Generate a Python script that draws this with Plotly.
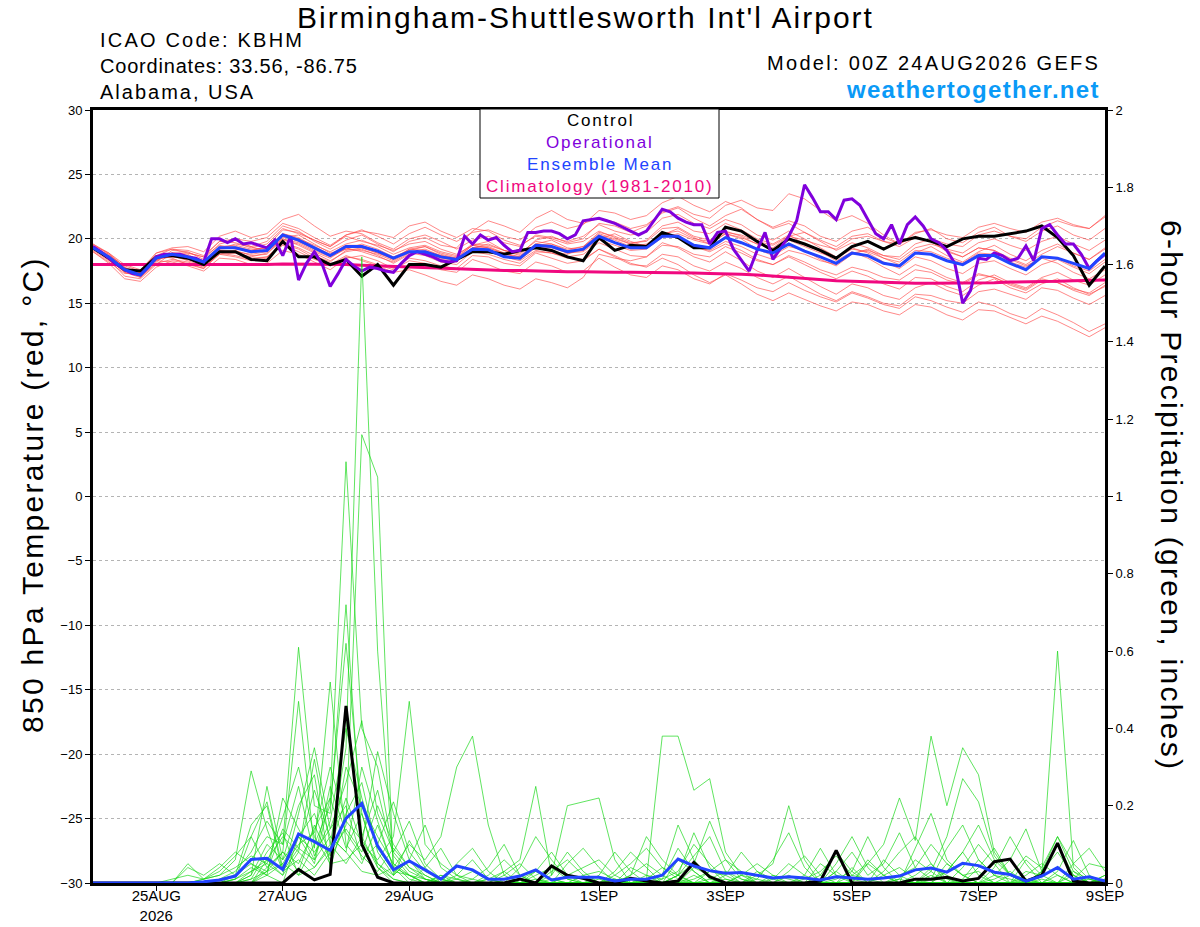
import plotly.graph_objects as go
import pandas as pd

# GEFS run 00Z 24AUG2026, 6-hourly out to 00Z 9SEP2026
times = pd.date_range("2026-08-24 00:00", periods=65, freq="6h")
# operational run is plotted at 3-hourly resolution
times_op = pd.date_range("2026-08-24 00:00", periods=129, freq="3h")

tick_vals = ["2026-08-25", "2026-08-27", "2026-08-29", "2026-09-01",
             "2026-09-03", "2026-09-05", "2026-09-07", "2026-09-09"]
tick_text = ["25AUG<br>2026", "27AUG", "29AUG", "1SEP",
             "3SEP", "5SEP", "7SEP", "9SEP"]

# 850 hPa temperature (C)
control_t = [19.3, 18.5, 17.6, 17.5, 18.6, 18.7, 18.5, 18.0, 19.0, 19.0,
             18.4, 18.3, 19.8, 18.6, 18.6, 18.0, 18.4, 17.1, 18.0, 16.4,
             18.0, 18.0, 17.8, 18.4, 19.0, 19.0, 18.8, 19.1, 19.3, 19.1,
             18.6, 18.3, 20.1, 19.1, 19.5, 19.4, 20.5, 20.1, 19.3, 19.3,
             20.9, 20.6, 19.8, 19.1, 20.0, 19.6, 19.1, 18.5, 19.4, 19.8,
             19.2, 19.8, 20.1, 19.8, 19.4, 20.0, 20.2, 20.2, 20.4, 20.6,
             21.0, 20.1, 18.7, 16.4, 17.9]

operational_t = [19.4, 19.0, 18.5, 18.0, 17.6, 17.3, 17.2, 17.8, 18.6, 18.8,
                 18.8, 18.8, 18.6, 18.5, 18.2, 20.0, 20.0, 19.7, 20.0, 19.6,
                 19.7, 19.5, 19.3, 19.9, 18.7, 20.2, 16.8, 18.1, 19.0, 18.0,
                 16.3, 17.3, 18.4, 17.9, 17.5, 17.8, 17.7, 17.5, 17.4, 18.1,
                 18.7, 19.0, 18.8, 18.6, 18.3, 18.2, 18.3, 20.2, 19.6, 20.3,
                 19.9, 20.1, 19.5, 19.0, 19.1, 20.5, 20.5, 20.6, 20.6, 20.4,
                 20.0, 20.3, 21.4, 21.5, 21.6, 21.4, 21.2, 20.9, 20.6, 20.3,
                 20.6, 21.5, 22.3, 22.1, 21.6, 21.3, 21.1, 21.1, 19.6, 20.5,
                 20.6, 19.2, 18.3, 17.5, 19.1, 20.5, 18.4, 19.3, 20.2, 21.4,
                 24.2, 23.2, 22.1, 22.1, 21.5, 23.0, 23.1, 22.6, 21.5, 20.4,
                 20.0, 21.1, 19.6, 21.1, 21.7, 21.0, 20.0, 19.7, 19.1, 18.1,
                 15.0, 16.0, 18.5, 18.4, 18.9, 18.7, 18.3, 18.5, 19.45, 18.3,
                 20.8, 21.1, 20.3, 19.6, 19.6, 18.8, 17.7, 18.3, 18.8]

mean_t = [19.3, 18.6, 17.6, 17.2, 18.5, 18.8, 18.6, 18.2, 19.3, 19.3,
          19.0, 19.1, 20.3, 19.9, 19.3, 18.7, 19.4, 19.4, 19.05, 18.5,
          19.0, 19.0, 18.6, 18.4, 19.2, 19.15, 18.6, 18.5, 19.5, 19.4,
          19.0, 19.2, 20.2, 19.7, 19.3, 19.3, 20.2, 20.2, 19.5, 19.3,
          20.1, 19.7, 19.2, 18.9, 19.6, 19.05, 18.6, 18.1, 18.9, 18.7,
          18.1, 17.9, 18.9, 18.8, 18.3, 18.0, 18.7, 18.7, 18.1, 17.6,
          18.6, 18.5, 18.1, 17.7, 18.9]

clim_t = [18.0, 18.0, 18.0, 17.95, 17.95, 17.95, 17.95, 17.95, 18.0, 18.0,
          18.0, 18.0, 18.05, 18.05, 18.05, 18.0, 18.0, 17.95, 17.9, 17.9,
          17.85, 17.8, 17.75, 17.7, 17.65, 17.6, 17.55, 17.55, 17.5, 17.5,
          17.45, 17.45, 17.4, 17.4, 17.4, 17.4, 17.4, 17.35, 17.35, 17.3,
          17.3, 17.25, 17.2, 17.1, 17.0, 16.9, 16.8, 16.75, 16.7, 16.65,
          16.6, 16.6, 16.55, 16.55, 16.55, 16.55, 16.6, 16.6, 16.65, 16.65,
          16.7, 16.7, 16.75, 16.75, 16.8]

members_t = [
    [19.6, 18.9, 17.8, 17.0, 18.2, 19.1, 19.0, 18.4, 19.6, 19.9, 19.4, 19.8, 21.0,
     20.6, 19.8, 19.2, 19.9, 20.3, 19.6, 19.0, 19.8, 20.1, 19.5, 19.3, 20.6, 21.4,
     21.0, 20.5, 21.6, 22.2, 21.5, 21.2, 21.6, 21.3, 20.8, 21.1, 22.0, 22.4, 21.6,
     21.0, 21.8, 22.3, 21.5, 20.9, 21.4, 21.0, 20.2, 19.8, 20.6, 20.9, 20.1, 19.6,
     20.4, 20.8, 20.0, 19.7, 20.5, 20.9, 20.2, 19.8, 20.6, 21.0, 20.3, 19.9, 20.8],
    [19.0, 18.2, 17.3, 17.4, 18.7, 18.5, 18.0, 17.7, 18.9, 18.7, 18.4, 18.6, 19.6,
     19.2, 18.5, 17.9, 18.6, 18.4, 18.0, 17.6, 18.3, 18.1, 17.6, 17.4, 18.4, 18.0,
     17.5, 17.3, 18.2, 17.9, 17.4, 17.5, 18.5, 17.8, 17.2, 17.0, 17.9, 17.6, 16.9,
     16.5, 17.3, 16.8, 16.2, 15.9, 16.6, 16.0, 15.5, 15.1, 15.8, 15.4, 14.9, 14.6,
     15.5, 15.2, 14.7, 14.3, 15.1, 14.8, 14.2, 13.8, 14.6, 14.1, 13.5, 12.8, 13.4],
    [19.4, 18.4, 17.1, 16.9, 18.0, 18.9, 18.9, 18.6, 19.5, 19.2, 19.1, 19.4, 20.7,
     20.5, 19.9, 19.4, 20.2, 19.8, 19.5, 19.1, 19.6, 19.8, 19.2, 18.8, 19.5, 19.3,
     18.9, 18.4, 19.3, 19.0, 18.8, 19.3, 20.4, 20.0, 19.6, 19.9, 21.0, 21.3, 20.6,
     20.4, 21.2, 20.7, 20.0, 19.6, 20.3, 19.6, 19.0, 18.3, 19.0, 18.5, 17.8, 17.2,
     18.0, 17.6, 17.0, 16.6, 17.3, 17.0, 16.5, 16.1, 16.9, 16.6, 16.0, 15.6, 16.4],
    [19.2, 18.7, 17.9, 17.5, 18.9, 19.3, 19.4, 19.0, 20.2, 20.6, 20.1, 20.4, 21.5,
     21.9, 21.0, 20.2, 20.6, 20.4, 19.7, 19.2, 20.0, 20.3, 19.8, 19.2, 19.9, 20.2,
     19.7, 19.4, 20.3, 20.1, 19.8, 20.2, 21.1, 20.6, 20.3, 20.5, 21.6, 21.9, 21.2,
     20.8, 21.5, 21.1, 20.3, 19.9, 20.6, 20.0, 19.3, 18.6, 19.3, 18.9, 18.2, 17.7,
     18.6, 18.3, 17.7, 17.3, 18.1, 18.3, 17.7, 17.2, 18.0, 18.4, 17.8, 17.3, 18.2],
    [19.5, 18.5, 17.4, 17.1, 18.4, 18.7, 18.3, 17.9, 19.0, 19.1, 18.7, 18.8, 20.0,
     19.5, 18.9, 18.3, 19.0, 19.2, 18.7, 18.1, 18.8, 19.0, 18.4, 18.2, 19.3, 19.6,
     19.1, 18.8, 19.9, 20.2, 19.7, 20.0, 21.2, 21.0, 20.5, 21.0, 22.1, 22.5, 21.9,
     21.6, 22.6, 23.0, 22.4, 22.2, 23.5, 23.1, 22.2, 21.4, 21.8, 21.2, 20.3, 19.6,
     20.2, 19.8, 19.0, 18.6, 19.3, 19.1, 18.5, 18.0, 18.8, 19.4, 18.9, 18.4, 19.3],
    [19.1, 18.3, 17.5, 17.6, 18.3, 18.2, 17.9, 17.5, 18.5, 18.4, 18.0, 18.1, 19.1,
     18.8, 18.2, 17.6, 18.5, 18.7, 18.3, 17.7, 18.5, 18.3, 17.9, 17.7, 18.7, 18.6,
     18.1, 17.9, 18.9, 18.5, 18.1, 18.3, 19.2, 18.6, 18.0, 17.9, 18.8, 18.6, 17.9,
     17.5, 18.2, 17.7, 17.0, 16.5, 17.1, 16.4, 15.7, 15.2, 15.9, 15.5, 15.0, 14.8,
     15.7, 15.6, 15.2, 15.0, 15.9, 16.1, 15.7, 15.3, 16.2, 16.0, 15.4, 14.9, 15.6],
    [19.3, 18.8, 17.7, 17.3, 18.6, 18.9, 18.7, 18.3, 19.4, 19.5, 19.2, 19.3, 20.4,
     20.0, 19.5, 19.0, 19.6, 19.9, 19.4, 18.8, 19.3, 19.5, 19.0, 18.7, 19.6, 19.5,
     19.1, 18.9, 19.8, 19.6, 19.2, 19.4, 20.3, 19.9, 19.4, 19.6, 20.4, 20.6, 20.0,
     19.8, 20.5, 20.3, 19.8, 19.5, 20.2, 19.9, 19.5, 19.2, 20.0, 20.2, 19.8, 19.6,
     20.5, 20.7, 20.3, 20.1, 20.9, 21.2, 20.8, 20.5, 21.3, 21.6, 21.1, 20.8, 21.7],
    [19.2, 18.5, 17.6, 17.3, 18.5, 18.6, 18.5, 18.0, 19.1, 18.9, 18.6, 18.9, 19.9,
     19.6, 19.0, 18.5, 19.3, 19.0, 18.6, 18.2, 18.9, 18.7, 18.2, 18.0, 19.0, 18.8,
     18.4, 18.1, 19.0, 18.9, 18.6, 18.8, 19.7, 19.2, 18.7, 18.6, 19.5, 19.4, 18.8,
     18.6, 19.4, 18.9, 18.3, 18.0, 18.7, 18.2, 17.6, 17.2, 17.8, 17.5, 17.0, 16.8,
     17.6, 17.4, 16.8, 16.5, 17.2, 17.0, 16.4, 16.0, 16.8, 16.6, 16.1, 15.8, 16.6],
    [19.4, 18.6, 17.5, 17.2, 18.3, 18.9, 18.8, 18.1, 19.2, 19.6, 19.4, 19.0, 20.1,
     20.3, 19.6, 18.9, 19.2, 19.6, 19.2, 18.6, 19.1, 19.4, 18.8, 18.5, 19.5, 19.8,
     19.1, 18.7, 19.6, 19.9, 19.3, 19.1, 20.0, 20.4, 19.8, 19.4, 20.3, 20.8, 20.1,
     19.6, 20.4, 20.0, 19.2, 18.7, 19.4, 19.1, 18.4, 17.9, 18.8, 19.2, 18.5, 18.0,
     18.9, 19.4, 18.7, 18.2, 19.0, 19.5, 18.8, 18.3, 19.1, 19.6, 18.9, 18.4, 19.2],
    [19.0, 18.1, 16.9, 16.7, 17.8, 18.3, 18.1, 17.7, 18.8, 18.6, 18.3, 18.5, 19.5,
     19.0, 18.4, 18.0, 18.7, 18.3, 17.9, 17.4, 17.6, 17.2, 16.7, 16.4, 17.2, 16.9,
     16.4, 16.1, 16.9, 16.6, 16.2, 17.0, 18.8, 18.5, 18.3, 18.6, 19.7, 19.3, 18.6,
     18.2, 19.0, 18.3, 17.5, 17.0, 17.7, 17.0, 16.3, 15.7, 16.5, 16.2, 15.6, 15.3,
     16.2, 16.6, 16.0, 15.6, 16.4, 16.9, 16.2, 15.8, 16.5, 16.9, 16.2, 15.7, 16.3],
    [19.6, 18.8, 17.8, 17.3, 18.7, 19.2, 19.1, 18.7, 19.8, 20.0, 19.8, 20.1, 21.2,
     20.8, 20.1, 19.5, 20.3, 20.7, 20.2, 19.6, 20.4, 20.9, 20.3, 19.8, 20.5, 20.7,
     20.2, 19.9, 20.9, 21.3, 20.8, 21.1, 22.2, 22.0, 21.5, 21.8, 22.8, 23.3, 22.6,
     22.1, 22.9, 22.4, 21.5, 20.8, 21.2, 20.5, 19.8, 19.1, 19.7, 19.3, 18.7, 18.4,
     19.3, 19.6, 19.2, 18.9, 19.7, 20.0, 19.5, 19.1, 19.8, 20.2, 19.6, 19.1, 19.9],
    [19.3, 18.6, 17.6, 17.4, 18.4, 18.6, 18.4, 18.1, 19.1, 19.0, 18.8, 19.0, 20.0,
     19.7, 19.1, 18.6, 19.2, 19.1, 18.8, 18.3, 19.0, 18.9, 18.5, 18.3, 19.2, 19.0,
     18.6, 18.3, 19.1, 18.9, 18.5, 18.4, 19.2, 18.7, 18.1, 17.8, 18.5, 18.0, 17.2,
     16.6, 17.2, 16.5, 15.7, 15.2, 15.8, 15.3, 14.8, 14.4, 15.1, 14.9, 14.4, 14.1,
     14.9, 14.7, 14.1, 13.7, 14.5, 14.4, 13.9, 13.4, 14.0, 13.6, 13.0, 12.4, 13.1],
    [19.4, 18.7, 17.7, 17.1, 18.6, 18.7, 18.5, 18.2, 19.2, 19.3, 18.9, 19.2, 20.4,
     20.1, 19.4, 18.8, 19.5, 19.5, 19.0, 18.4, 19.0, 19.2, 18.7, 18.5, 19.3, 19.4,
     18.9, 18.6, 19.5, 19.6, 19.1, 19.4, 20.5, 20.2, 19.7, 19.8, 20.8, 20.9, 20.2,
     19.9, 20.6, 20.2, 19.6, 19.2, 19.9, 19.4, 18.9, 18.5, 19.2, 19.0, 18.5, 18.2,
     19.1, 19.0, 18.5, 18.1, 18.9, 18.8, 18.2, 17.8, 18.6, 18.5, 17.9, 17.5, 18.4],
    [19.5, 18.9, 18.0, 17.6, 18.9, 19.2, 18.9, 18.6, 19.8, 19.7, 19.3, 19.6, 20.8,
     20.4, 19.9, 19.4, 20.3, 20.6, 20.4, 20.1, 21.0, 21.3, 20.6, 20.1, 20.8, 20.6,
     19.9, 19.5, 20.2, 20.0, 19.6, 19.8, 20.6, 20.1, 19.6, 19.5, 20.3, 20.1, 19.4,
     19.0, 19.6, 19.1, 18.4, 18.0, 18.6, 18.0, 17.4, 16.9, 17.5, 17.1, 16.5, 16.1,
     17.0, 16.9, 16.3, 15.9, 16.8, 17.2, 16.6, 16.2, 17.0, 17.4, 16.8, 16.4, 17.2],
    [19.2, 18.4, 17.4, 17.0, 18.1, 18.4, 18.2, 17.8, 18.8, 18.9, 18.5, 18.6, 19.7,
     19.3, 18.7, 18.2, 19.1, 19.3, 18.9, 18.4, 19.2, 19.4, 18.9, 18.6, 19.5, 19.3,
     18.8, 18.6, 19.6, 19.4, 18.9, 19.0, 19.9, 19.5, 19.1, 19.2, 20.1, 20.4, 19.9,
     19.6, 20.4, 20.1, 19.6, 19.3, 20.2, 20.5, 19.9, 19.4, 20.2, 20.4, 19.8, 19.4,
     20.1, 19.8, 19.1, 18.6, 19.3, 19.1, 18.4, 17.9, 18.5, 18.1, 17.4, 16.9, 17.6],
    [19.3, 18.5, 17.5, 17.2, 18.4, 18.8, 18.6, 18.2, 19.3, 19.4, 19.1, 19.3, 20.2,
     19.8, 19.2, 18.7, 19.4, 19.3, 18.9, 18.5, 19.2, 19.1, 18.7, 18.4, 19.3, 19.2,
     18.7, 18.5, 19.4, 19.3, 18.9, 19.1, 20.1, 19.7, 19.2, 19.3, 20.2, 20.1, 19.4,
     19.1, 19.8, 19.4, 18.8, 18.4, 19.1, 18.8, 18.3, 18.0, 18.9, 19.1, 18.7, 18.6,
     19.6, 20.0, 19.6, 19.4, 20.3, 20.6, 20.2, 20.0, 20.9, 21.4, 21.0, 20.8, 21.8],
]

# 6-hour precipitation (inches)
control_p = [0, 0, 0, 0, 0, 0, 0, 0, 0, 0,
             0, 0, 0, 0.035, 0.008, 0.022, 0.458, 0.10, 0.015, 0,
             0, 0, 0, 0, 0, 0, 0, 0.01, 0, 0.044,
             0.02, 0.012, 0, 0, 0.012, 0.005, 0, 0.005, 0.053, 0.016,
             0, 0, 0, 0, 0, 0, 0.005, 0.084, 0, 0,
             0, 0, 0.01, 0.01, 0.015, 0.005, 0.012, 0.055, 0.062, 0.005,
             0.02, 0.103, 0.005, 0, 0]

mean_p = [0, 0, 0, 0, 0, 0, 0, 0.003, 0.008, 0.018,
          0.061, 0.064, 0.035, 0.127, 0.107, 0.084, 0.167, 0.206, 0.096, 0.034,
          0.057, 0.034, 0.01, 0.044, 0.034, 0.01, 0.01, 0.018, 0.034, 0.008,
          0.015, 0.015, 0.015, 0.005, 0.01, 0.01, 0.02, 0.062, 0.044, 0.032,
          0.025, 0.027, 0.02, 0.013, 0.016, 0.013, 0.008, 0.016, 0.013, 0.01,
          0.013, 0.018, 0.034, 0.039, 0.028, 0.051, 0.045, 0.028, 0.022, 0.005,
          0.018, 0.04, 0.01, 0.016, 0.005]

members_p = [
    [0, 0, 0, 0, 0, 0, 0, 0,
     0, 0.01, 0.03, 0.05, 0.02, 0.08, 0.04, 0.10,
     0.35, 1.62, 0.60, 0.05, 0.02, 0, 0, 0.01,
     0.03, 0.01, 0, 0, 0, 0, 0.02, 0.01,
     0, 0, 0, 0.01, 0.04, 0.02, 0, 0,
     0, 0, 0.01, 0, 0, 0, 0, 0.03,
     0, 0, 0, 0, 0.02, 0.05, 0.01, 0,
     0, 0.01, 0.03, 0, 0, 0.02, 0, 0,
     0],
    [0, 0, 0, 0, 0, 0, 0, 0,
     0, 0, 0.02, 0.10, 0.06, 0.12, 0.05, 0.22,
     1.09, 0.40, 0.30, 0.08, 0.03, 0.01, 0, 0,
     0, 0, 0.02, 0.05, 0.01, 0, 0, 0,
     0.01, 0, 0, 0, 0, 0.06, 0.03, 0,
     0, 0, 0, 0.02, 0.01, 0, 0, 0,
     0.04, 0, 0, 0, 0, 0, 0.03, 0.08,
     0.02, 0, 0, 0.01, 0, 0, 0.02, 0,
     0],
    [0, 0, 0, 0, 0, 0, 0, 0,
     0, 0, 0, 0.04, 0.08, 0.03, 0.15, 0.06,
     0.15, 1.16, 1.05, 0.02, 0.06, 0.01, 0, 0,
     0, 0.01, 0, 0, 0, 0.03, 0.06, 0.02,
     0, 0, 0.01, 0, 0, 0, 0.02, 0,
     0.01, 0, 0, 0, 0, 0.02, 0, 0,
     0, 0.05, 0.02, 0, 0, 0, 0, 0,
     0.04, 0.09, 0.02, 0, 0, 0, 0, 0.01,
     0],
    [0, 0, 0, 0, 0, 0, 0, 0,
     0.01, 0.02, 0.06, 0.12, 0.10, 0.61, 0.20, 0.18,
     0.72, 0.12, 0.04, 0.01, 0, 0, 0.02, 0.01,
     0, 0, 0, 0, 0.01, 0, 0, 0,
     0, 0.01, 0, 0, 0, 0, 0, 0.03,
     0.02, 0, 0, 0, 0, 0, 0, 0,
     0, 0, 0, 0.01, 0, 0, 0, 0,
     0, 0, 0, 0.02, 0.05, 0.02, 0, 0,
     0.02],
    [0, 0, 0, 0, 0, 0, 0, 0.01,
     0.03, 0.07, 0.12, 0.04, 0.08, 0.47, 0.09, 0.52,
     0.10, 0.05, 0.15, 0.04, 0, 0, 0.01, 0,
     0, 0, 0, 0, 0, 0, 0.02, 0.04,
     0.06, 0.02, 0, 0, 0.01, 0.03, 0.10, 0.05,
     0.01, 0, 0, 0, 0, 0, 0, 0,
     0, 0, 0, 0.01, 0.06, 0.03, 0, 0,
     0, 0, 0, 0, 0.03, 0.10, 0.02, 0,
     0],
    [0, 0, 0, 0, 0, 0, 0, 0,
     0, 0, 0.01, 0.03, 0.05, 0.02, 0.04, 0.09,
     0.22, 0.10, 0.06, 0.12, 0.47, 0.10, 0.05, 0.02,
     0.01, 0, 0, 0, 0, 0, 0, 0,
     0, 0, 0, 0.01, 0.38, 0.38, 0.24, 0.27,
     0.08, 0.02, 0, 0, 0, 0, 0, 0,
     0, 0, 0.02, 0.04, 0.01, 0, 0, 0,
     0, 0, 0, 0, 0, 0, 0, 0,
     0],
    [0, 0, 0, 0, 0, 0, 0.05, 0.01,
     0.02, 0.06, 0.29, 0.14, 0.03, 0.09, 0.06, 0.12,
     0.08, 0.03, 0.02, 0.04, 0.10, 0.06, 0.12, 0.30,
     0.38, 0.15, 0.02, 0, 0, 0, 0, 0,
     0, 0, 0, 0, 0, 0, 0, 0.01,
     0.03, 0.01, 0, 0, 0.02, 0, 0, 0,
     0, 0, 0, 0, 0, 0.04, 0.02, 0,
     0, 0, 0, 0, 0, 0, 0, 0,
     0],
    [0, 0, 0, 0, 0, 0, 0, 0,
     0, 0, 0.02, 0.25, 0.06, 0.20, 0.28, 0.04,
     0.18, 0.26, 0.08, 0.02, 0.06, 0.15, 0.04, 0.01,
     0, 0, 0.03, 0.06, 0.25, 0.02, 0.20, 0.21,
     0.22, 0.06, 0, 0, 0, 0, 0, 0,
     0, 0, 0.02, 0.05, 0.20, 0.06, 0, 0,
     0, 0, 0, 0, 0, 0, 0, 0,
     0, 0, 0, 0, 0, 0, 0, 0,
     0],
    [0, 0, 0, 0, 0, 0, 0, 0,
     0, 0.01, 0.04, 0.02, 0, 0.12, 0.18, 0.07,
     0.30, 0.20, 0.12, 0.05, 0.01, 0, 0, 0,
     0, 0.01, 0.03, 0, 0, 0, 0, 0,
     0, 0, 0.02, 0.05, 0.02, 0, 0, 0,
     0, 0, 0, 0, 0, 0.01, 0.03, 0.07,
     0.02, 0.05, 0.10, 0.22, 0.11, 0.38, 0.20, 0.35,
     0.28, 0.08, 0.02, 0, 0, 0, 0, 0,
     0],
    [0, 0, 0, 0, 0, 0, 0, 0,
     0, 0, 0, 0.03, 0.08, 0.05, 0.14, 0.22,
     0.09, 0.18, 0.05, 0.01, 0, 0, 0.02, 0,
     0, 0, 0, 0, 0.02, 0.04, 0.01, 0,
     0, 0, 0, 0.02, 0, 0, 0.04, 0.02,
     0, 0, 0, 0, 0, 0, 0, 0,
     0.02, 0.01, 0, 0, 0, 0.02, 0, 0.04,
     0.10, 0.05, 0, 0.03, 0.02, 0.60, 0.04, 0,
     0.02],
    [0, 0, 0, 0, 0, 0, 0, 0,
     0.01, 0.03, 0.08, 0.16, 0.10, 0.25, 0.07, 0.16,
     0.40, 0.22, 0.09, 0.03, 0.02, 0, 0, 0,
     0, 0, 0, 0, 0, 0, 0, 0,
     0, 0.01, 0, 0, 0.02, 0.15, 0.06, 0.01,
     0, 0, 0, 0, 0, 0, 0, 0,
     0, 0, 0.03, 0.08, 0.12, 0.05, 0, 0.01,
     0.06, 0.02, 0, 0, 0, 0, 0.03, 0.01,
     0],
    [0, 0, 0, 0, 0, 0, 0, 0,
     0, 0, 0, 0.06, 0.12, 0.08, 0.32, 0.10,
     0.05, 0.12, 0.24, 0.07, 0.02, 0.01, 0, 0,
     0, 0, 0, 0.01, 0.03, 0.01, 0, 0,
     0, 0, 0, 0, 0, 0, 0, 0,
     0, 0.02, 0.05, 0.02, 0, 0, 0, 0.05,
     0.12, 0.04, 0, 0, 0, 0, 0, 0,
     0, 0.04, 0.12, 0.05, 0, 0.03, 0.11, 0.02,
     0],
    [0, 0, 0, 0, 0, 0, 0.04, 0.02,
     0.05, 0.02, 0.15, 0.20, 0.03, 0.06, 0.02, 0.08,
     0.14, 0.08, 0.20, 0.10, 0.04, 0.02, 0, 0,
     0, 0, 0, 0, 0, 0, 0, 0.02,
     0.03, 0.01, 0, 0, 0, 0.02, 0.13, 0.04,
     0, 0, 0, 0, 0, 0, 0, 0.01,
     0.03, 0.12, 0.04, 0, 0, 0, 0, 0,
     0, 0, 0, 0, 0.01, 0, 0, 0,
     0.01],
    [0, 0, 0, 0, 0, 0, 0, 0,
     0, 0, 0.01, 0.08, 0.13, 0.02, 0.10, 0.20,
     0.62, 0.18, 0.04, 0, 0, 0.04, 0.09, 0.02,
     0, 0, 0, 0, 0.03, 0.08, 0.02, 0,
     0, 0, 0, 0, 0, 0, 0, 0,
     0, 0, 0.03, 0.01, 0, 0, 0.02, 0.08,
     0.03, 0, 0, 0, 0, 0, 0.05, 0.02,
     0, 0, 0, 0, 0, 0, 0, 0,
     0],
    [0, 0, 0, 0, 0, 0, 0, 0.01,
     0.02, 0.04, 0.07, 0.05, 0.17, 0.30, 0.12, 0.05,
     0.06, 0.10, 0.34, 0.18, 0.06, 0.02, 0, 0,
     0, 0, 0, 0, 0, 0, 0, 0,
     0, 0.02, 0.05, 0.09, 0.04, 0.01, 0, 0,
     0, 0, 0, 0, 0, 0, 0, 0,
     0, 0, 0, 0, 0, 0.01, 0.03, 0.08,
     0.15, 0.06, 0.02, 0.01, 0, 0, 0, 0,
     0],
    [0, 0, 0, 0, 0, 0, 0, 0,
     0, 0, 0, 0.02, 0.05, 0.12, 0.08, 0.14,
     0.26, 0.42, 0.18, 0.08, 0.16, 0.05, 0.01, 0,
     0, 0, 0, 0, 0, 0, 0, 0,
     0, 0, 0, 0, 0, 0, 0.01, 0.03,
     0.06, 0.03, 0, 0, 0, 0, 0, 0,
     0, 0, 0, 0, 0, 0, 0, 0,
     0, 0, 0.02, 0.07, 0.04, 0.12, 0.03, 0,
     0.01],
    [0, 0, 0, 0, 0, 0, 0, 0,
     0, 0.02, 0.05, 0.03, 0.14, 0.09, 0.24, 0.12,
     0.08, 0.30, 0.16, 0.04, 0.02, 0, 0, 0.05,
     0.09, 0.03, 0, 0.04, 0.12, 0.06, 0.01, 0,
     0, 0.03, 0.08, 0.04, 0, 0.02, 0.05, 0.16,
     0.06, 0.01, 0, 0, 0.03, 0.07, 0.02, 0,
     0, 0.06, 0.02, 0, 0.09, 0.18, 0.06, 0.02,
     0, 0.02, 0.06, 0.14, 0.03, 0.08, 0.02, 0,
     0],
    [0, 0, 0, 0, 0, 0, 0, 0,
     0, 0, 0.03, 0.06, 0.02, 0.18, 0.35, 0.14,
     0.20, 0.06, 0.10, 0.21, 0.08, 0.03, 0.01, 0,
     0, 0.02, 0.06, 0.02, 0, 0, 0.05, 0.09,
     0.04, 0, 0.02, 0.12, 0.06, 0.02, 0, 0,
     0.02, 0.08, 0.03, 0, 0, 0, 0.05, 0.02,
     0, 0, 0, 0.02, 0.04, 0.10, 0.05, 0.02,
     0.03, 0, 0, 0.06, 0.02, 0, 0.05, 0.09,
     0.03],
    [0, 0, 0, 0, 0, 0.01, 0.02, 0.01,
     0.04, 0.08, 0.05, 0.02, 0.22, 0.14, 0.06, 0.25,
     0.13, 0.07, 0.03, 0.09, 0.04, 0.01, 0, 0.02,
     0.06, 0.01, 0, 0, 0, 0.02, 0.08, 0.03,
     0, 0, 0.04, 0.02, 0.01, 0.09, 0.03, 0,
     0, 0.02, 0.01, 0.06, 0.13, 0.04, 0, 0.03,
     0.08, 0.02, 0.05, 0.13, 0.04, 0.01, 0.09, 0.15,
     0.06, 0.02, 0.01, 0, 0.03, 0.12, 0.05, 0.01,
     0],
    [0, 0, 0, 0, 0, 0, 0, 0,
     0, 0.01, 0.12, 0.21, 0.04, 0.10, 0.13, 0.30,
     0.16, 0.11, 0.05, 0.02, 0.11, 0.04, 0, 0,
     0.01, 0.04, 0.10, 0.02, 0, 0.01, 0, 0,
     0.02, 0.08, 0.03, 0, 0, 0.02, 0.07, 0.12,
     0.03, 0, 0, 0.01, 0.05, 0.02, 0.09, 0.02,
     0.01, 0, 0.06, 0.02, 0, 0.03, 0.12, 0.27,
     0.21, 0.07, 0.02, 0, 0.02, 0.04, 0.01, 0.05,
     0.04],
]

FONT = "Liberation Sans, Arial, Helvetica, sans-serif"
RED = "rgba(255,70,70,0.8)"
GREEN = "rgba(20,215,20,0.85)"
PURPLE = "#8000dc"
BLUE = "#2244ff"
PINK = "#f0087f"

# plot area in pixels (figure is 1200 x 927)
L, R, T, B = 93, 1105, 110, 883


def px(x):
    return (x - L) / (R - L)


def py(y):
    return (B - y) / (B - T)


def spaced(text, ls, color=None):
    # the original lettering is noticeably wider than Liberation Sans
    style = f"letter-spacing:{ls}px"
    if color:
        style += f";color:{color}"
    return f"<span style='{style}'>{text}</span>"


fig = go.Figure()

# ensemble members
for m in members_t:
    fig.add_trace(go.Scatter(x=times[:len(m)], y=m, mode="lines",
                             line=dict(color=RED, width=0.8), hoverinfo="skip"))
for m in members_p:
    fig.add_trace(go.Scatter(x=times[:len(m)], y=m, mode="lines", yaxis="y2",
                             line=dict(color=GREEN, width=0.8), hoverinfo="skip"))

# temperature
fig.add_trace(go.Scatter(x=times, y=clim_t, mode="lines", name="Climatology",
                         line=dict(color=PINK, width=3)))
fig.add_trace(go.Scatter(x=times, y=control_t, mode="lines", name="Control",
                         line=dict(color="black", width=3)))
fig.add_trace(go.Scatter(x=times_op, y=operational_t, mode="lines", name="Operational",
                         line=dict(color=PURPLE, width=3)))
fig.add_trace(go.Scatter(x=times, y=mean_t, mode="lines", name="Ensemble Mean",
                         line=dict(color=BLUE, width=3)))

# precipitation
fig.add_trace(go.Scatter(x=times, y=control_p, mode="lines", yaxis="y2",
                         line=dict(color="black", width=3)))
fig.add_trace(go.Scatter(x=times, y=mean_p, mode="lines", yaxis="y2",
                         line=dict(color=BLUE, width=3)))

annotations = [
    dict(x=px(585), y=py(18), text=spaced("Birmingham-Shuttlesworth Int'l Airport", 2.0),
         font=dict(size=30), xanchor="center", yanchor="middle"),
    dict(x=px(98), y=py(40), text=spaced("ICAO Code: KBHM", 2.2),
         font=dict(size=20), xanchor="left", yanchor="middle"),
    dict(x=px(98), y=py(66), text=spaced("Coordinates: 33.56, -86.75", 0.8),
         font=dict(size=20), xanchor="left", yanchor="middle"),
    dict(x=px(98), y=py(92), text=spaced("Alabama, USA", 2.0),
         font=dict(size=20), xanchor="left", yanchor="middle"),
    dict(x=px(1102), y=py(63), text=spaced("Model: 00Z 24AUG2026 GEFS", 2.3),
         font=dict(size=20), xanchor="right", yanchor="middle"),
    dict(x=px(1102), y=py(89), text="<b>" + spaced("weathertogether.net", 1.3) + "</b>",
         font=dict(size=24, color="#0a9af7"), xanchor="right", yanchor="middle"),
    dict(x=px(32), y=py(495), text=spaced("850 hPa Temperature (red, °C)", 2.3),
         textangle=-90, font=dict(size=30), xanchor="center", yanchor="middle"),
    dict(x=px(1172), y=py(495), text=spaced("6-hour Precipitation (green, inches)", 2.3),
         textangle=90, font=dict(size=30), xanchor="center", yanchor="middle"),
]

# legend box: white rectangle with four centred coloured lines
legend_lines = [("Control", "black", 121), ("Operational", PURPLE, 142),
                ("Ensemble Mean", BLUE, 164), ("Climatology (1981-2010)", PINK, 186)]
for label, col, ypix in legend_lines:
    annotations.append(dict(x=px(600), y=py(ypix), text=spaced(label, 1.8, col),
                            font=dict(size=17), xanchor="center", yanchor="middle"))

for a in annotations:
    a.update(xref="paper", yref="paper", showarrow=False)

fig.update_layout(
    width=1200, height=927,
    margin=dict(l=L, r=1200 - R, t=T, b=927 - B, autoexpand=False),
    paper_bgcolor="white", plot_bgcolor="white",
    font=dict(family=FONT, color="black"),
    showlegend=False,
    annotations=annotations,
    shapes=[dict(type="rect", xref="paper", yref="paper",
                 x0=px(480), x1=px(719), y0=py(198), y1=py(109),
                 fillcolor="white", line=dict(color="black", width=1))],
    xaxis=dict(
        type="date", range=[times[0], times[-1]],
        tickvals=tick_vals, ticktext=tick_text,
        ticks="outside", ticklen=5, tickwidth=1, tickcolor="black",
        tickfont=dict(size=15), automargin=False, ticklabelstandoff=-8,
        showgrid=False, zeroline=False,
        showline=True, linewidth=3, linecolor="black", mirror=True,
    ),
    yaxis=dict(
        range=[-30, 30], tick0=-30, dtick=5,
        ticks="outside", ticklen=5, tickwidth=1, tickcolor="black",
        tickfont=dict(size=13), automargin=False,
        showgrid=True, gridcolor="#b4b4b4", griddash="dot", gridwidth=1,
        zeroline=False,
        showline=True, linewidth=3, linecolor="black", mirror=True,
    ),
    yaxis2=dict(
        range=[0, 2], tick0=0, dtick=0.2, overlaying="y", side="right",
        ticks="outside", ticklen=5, tickwidth=1, tickcolor="black",
        tickfont=dict(size=13), automargin=False,
        showgrid=False, zeroline=False,
        showline=True, linewidth=3, linecolor="black",
    ),
)

# drop the default 8px body margin so the figure sits at the window origin
fig.write_html("out.html", config={"displayModeBar": False},
               post_script="document.body.style.margin='0';")
